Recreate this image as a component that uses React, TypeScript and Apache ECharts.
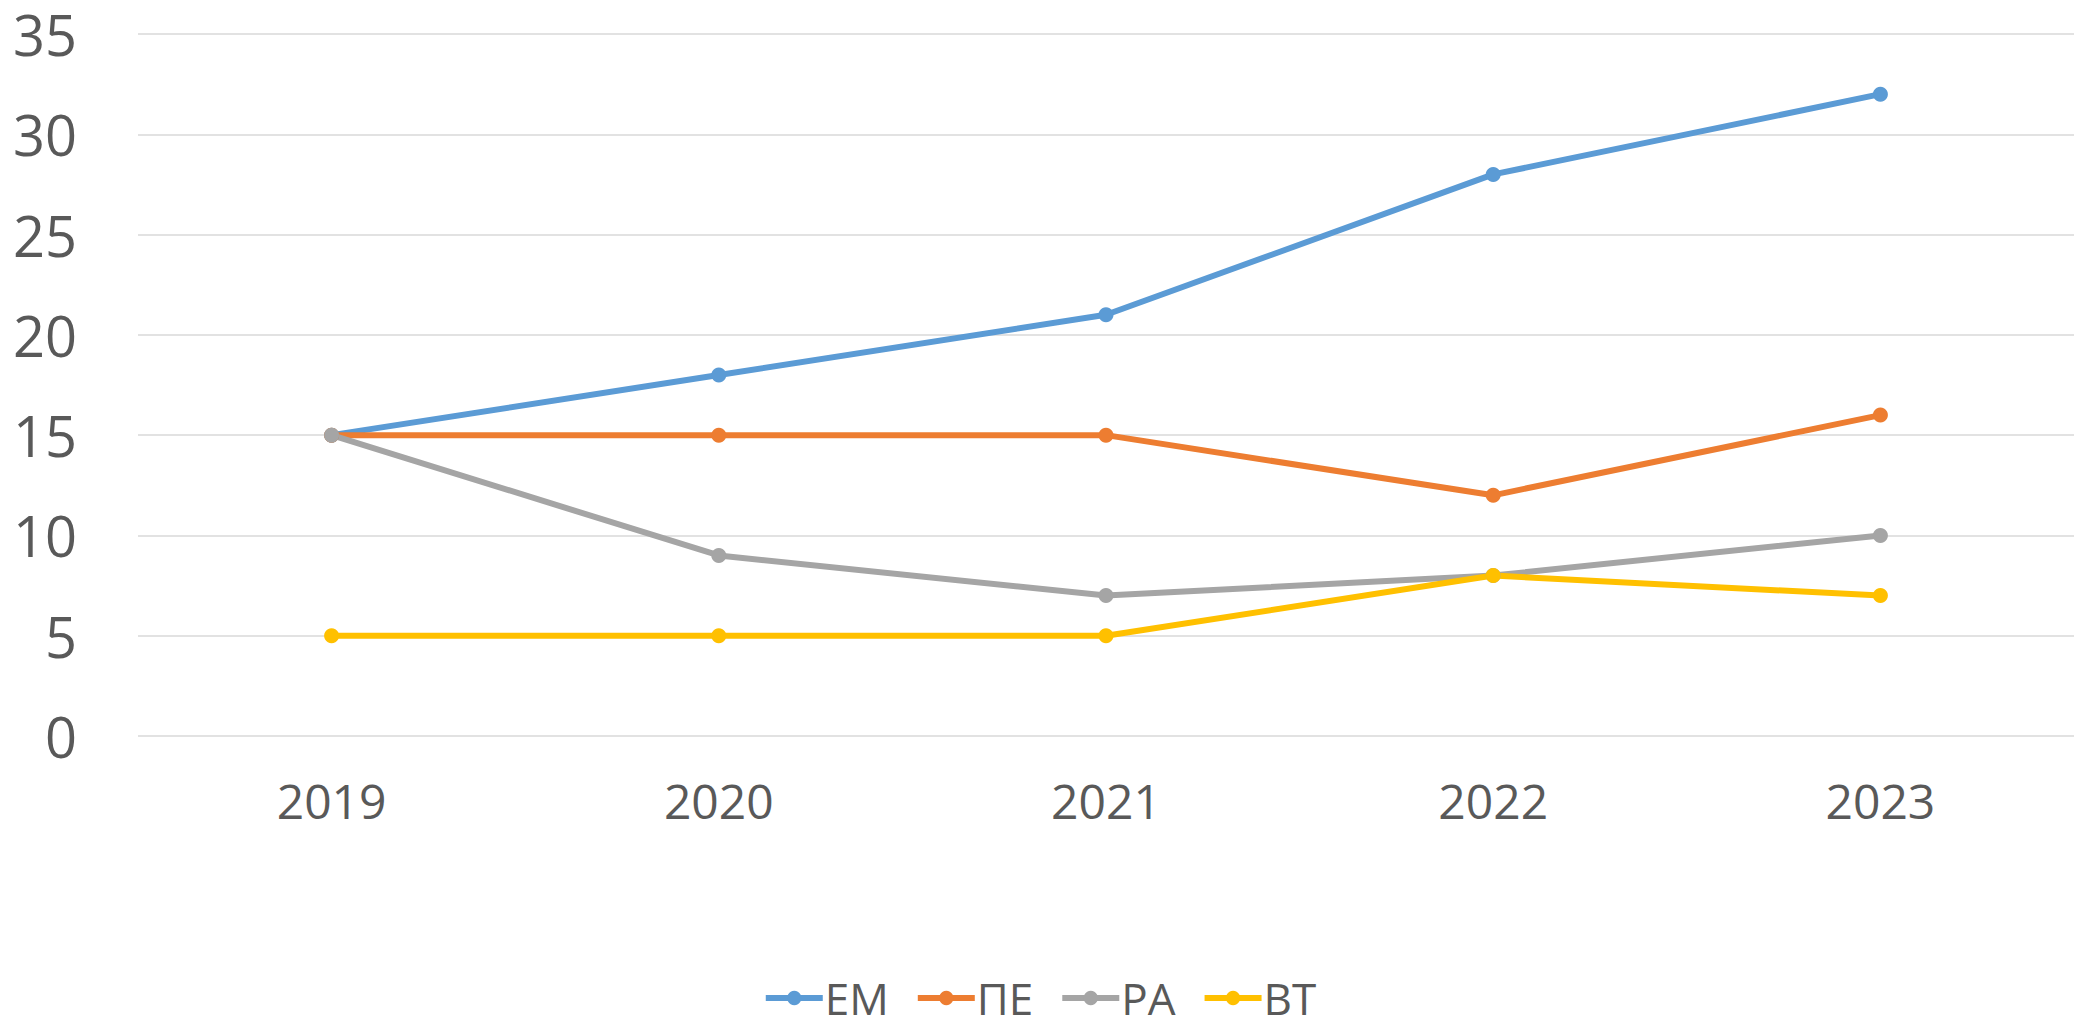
import React, { useEffect, useRef } from "react";
import * as echarts from "echarts";

const categories = ["2019", "2020", "2021", "2022", "2023"];
const seriesNames = ["ЕМ", "ПЕ", "РА", "ВТ"];
const emValues = [15, 18, 21, 28, 32];
const peValues = [15, 15, 15, 12, 16];
const raValues = [15, 9, 7, 8, 10];
const vtValues = [5, 5, 5, 8, 7];
const colors = ["#5B9BD5", "#ED7D31", "#A5A5A5", "#FFC000"];
const yTicks = { min: 0, max: 35, interval: 5 };

const FONT = "'Open Sans', 'Noto Sans', sans-serif";
const TEXT = "#595959";

export default function App() {
  const ref = useRef<HTMLDivElement>(null);
  useEffect(() => {
    if (!ref.current) return;
    const chart = echarts.init(ref.current, null, { renderer: "svg" });
    const data = [emValues, peValues, raValues, vtValues];
    chart.setOption({
      animation: false,
      backgroundColor: "#ffffff",
      textStyle: { fontFamily: FONT },
      grid: { left: 138, right: 5, top: 34, bottom: 285, containLabel: false },
      legend: {
        show: true,
        left: "center",
        top: 971,
        itemWidth: 57,
        itemHeight: 18,
        itemGap: 26,
        lineStyle: { width: 6 },
        textStyle: {
          fontFamily: FONT,
          fontSize: 44,
          lineHeight: 42,
          color: TEXT,
          padding: [0, 0, 0, -3],
        },
        data: seriesNames,
      },
      xAxis: {
        type: "category",
        data: categories,
        boundaryGap: true,
        axisLine: { show: false },
        axisTick: { show: false },
        axisLabel: { color: TEXT, fontSize: 48, fontFamily: FONT, margin: 40 },
        splitLine: { show: false },
      },
      yAxis: {
        type: "value",
        min: yTicks.min,
        max: yTicks.max,
        interval: yTicks.interval,
        axisLine: { show: false },
        axisTick: { show: false },
        axisLabel: { color: TEXT, fontSize: 56, lineHeight: 42, fontFamily: FONT, margin: 61 },
        splitLine: { show: true, lineStyle: { color: "#D9D9D9", width: 1.5 } },
      },
      series: seriesNames.map((name, i) => ({
        name,
        type: "line",
        data: data[i],
        symbol: "circle",
        symbolSize: 15,
        showSymbol: true,
        lineStyle: { color: colors[i], width: 6 },
        itemStyle: { color: colors[i], borderWidth: 0 },
        emphasis: { disabled: true },
      })),
    });
    return () => chart.dispose();
  }, []);
  return (
    <div
      ref={ref}
      style={{ position: "absolute", left: 0, top: 0, width: 2079, height: 1021 }}
    />
  );
}
